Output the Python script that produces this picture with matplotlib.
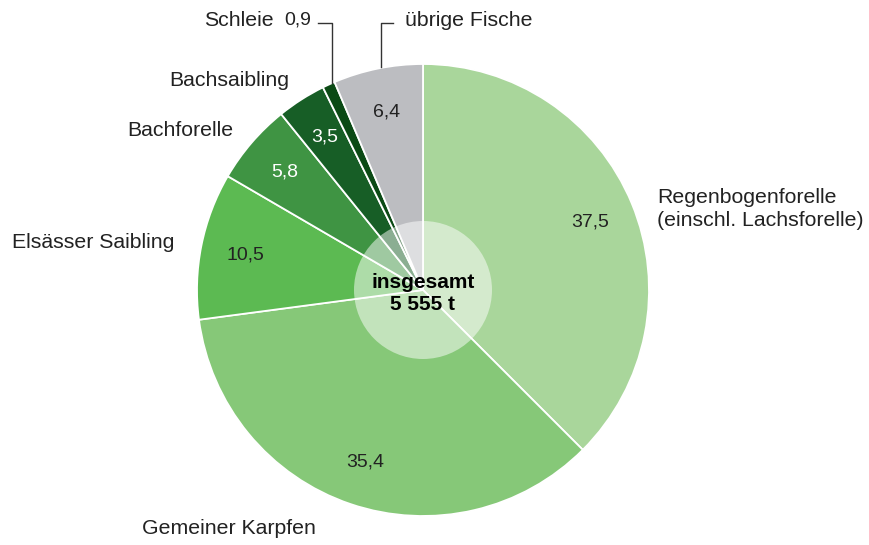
import numpy as np
import matplotlib.pyplot as plt
from matplotlib.patches import Circle

plt.rcParams['font.family'] = ['Liberation Sans', 'DejaVu Sans']

# Anteile in %, im Uhrzeigersinn ab 12 Uhr
sorten = ['Regenbogenforelle\n(einschl. Lachsforelle)', 'Gemeiner Karpfen',
          'Elsässer Saibling', 'Bachforelle', 'Bachsaibling', 'Schleie',
          'übrige Fische']
anteile = [37.5, 35.4, 10.5, 5.8, 3.5, 0.9, 6.4]
wert_text = ['37,5', '35,4', '10,5', '5,8', '3,5', '0,9', '6,4']
farben = ['#a9d69b', '#86c878', '#5cba52', '#3f9443', '#175e26', '#0b4a15', '#bcbdc1']
wert_farbe = ['#222222', '#222222', '#222222', 'white', 'white', '#222222', '#222222']
gesamt = '5 555 t'

H = 545
cx, cy, r = 423, H - 290, 226

fig = plt.figure(figsize=(8.69, 5.45), dpi=100)
ax = fig.add_axes([0, 0, 1, 1])

wedges, _ = ax.pie(anteile, colors=farben, startangle=90, counterclock=False,
                   center=(cx, cy), radius=r, frame=True,
                   wedgeprops=dict(edgecolor='white', linewidth=1.3))
ax.set_xlim(0, 869)
ax.set_ylim(0, H)
ax.set_aspect('equal')
ax.axis('off')

# Werte in den Segmenten (Pixelpositionen aus der Vorlage)
wert_pos = [(590, 222), (365, 462), (245, 255), (285, 172), (325, 137), None, (387, 112)]
for t, c, p in zip(wert_text, wert_farbe, wert_pos):
    if p is None:
        continue
    ax.text(p[0], H - p[1], t, color=c, fontsize=14, ha='center', va='center')

# Beschriftungen
fs = 15.3
tc = '#222222'
ax.text(657, H - 209, sorten[0], fontsize=fs, color=tc, ha='left', va='center',
        linespacing=1.3)
ax.text(229, H - 528, sorten[1], fontsize=fs, color=tc, ha='center', va='center')
ax.text(174, H - 243, sorten[2], fontsize=fs, color=tc, ha='right', va='center')
ax.text(233, H - 130, sorten[3], fontsize=fs, color=tc, ha='right', va='center')
ax.text(289, H - 80, sorten[4], fontsize=fs, color=tc, ha='right', va='center')
ax.text(274, H - 20, sorten[5], fontsize=fs, color=tc, ha='right', va='center')
ax.text(298, H - 20, wert_text[5], fontsize=14, color=tc, ha='center', va='center')
ax.text(405, H - 20, sorten[6], fontsize=fs, color=tc, ha='left', va='center')

# Führungslinien
ax.plot([318, 332, 332], [H - 23, H - 23, H - 83], color='#333333', lw=1)
ax.plot([393, 381, 381], [H - 23, H - 23, H - 67], color='#333333', lw=1)

# heller Kreis in der Mitte
ax.add_patch(Circle((cx, cy), 69, facecolor='white', alpha=0.5, edgecolor='none'))
ax.text(cx, H - 282, 'insgesamt', fontsize=15, fontweight='bold', color='black',
        ha='center', va='center')
ax.text(cx, H - 305, gesamt, fontsize=15, fontweight='bold', color='black',
        ha='center', va='center')

fig.savefig('out.png', dpi=100)
